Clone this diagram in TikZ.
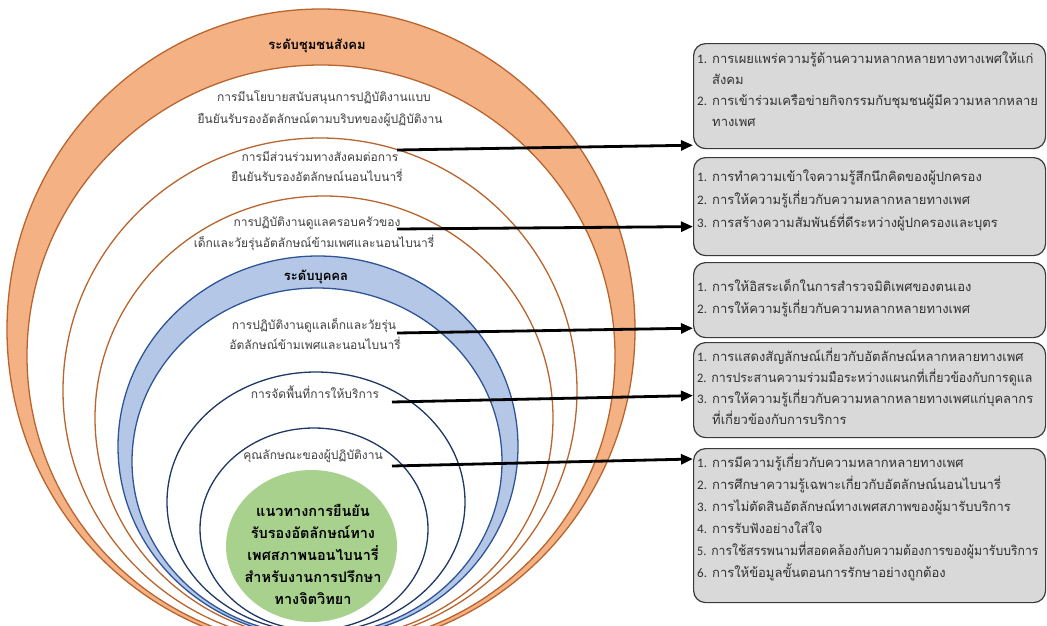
\documentclass[tikz,border=0pt]{standalone}
\usepackage{fontspec}
\newfontfamily\thai[Script=Thai]{Loma}
\newfontfamily\numf{Carlito}
\usetikzlibrary{arrows.meta,calc}
\definecolor{orfill}{HTML}{F4B183}
\definecolor{orline}{HTML}{B9652F}
\definecolor{bluefill}{HTML}{B4C7E7}
\definecolor{blueline}{HTML}{2F5597}
\definecolor{navyline}{HTML}{203864}
\definecolor{greenfill}{HTML}{A9D18E}
\definecolor{boxfill}{HTML}{D9D9D9}
\definecolor{boxline}{HTML}{3A3A3A}
\definecolor{ctextc}{HTML}{404040}
\definecolor{btextc}{HTML}{303030}
\begin{document}
\begin{tikzpicture}[x=1pt,y=-1pt,
  ring/.style={line width=1.3pt},
  bandtitle/.style={font=\thai\bfseries\fontsize{13}{15}\selectfont,text=black,inner sep=0pt,anchor=base},
  ctext/.style={font=\thai\fontsize{12}{14}\selectfont,text=ctextc,inner sep=0pt,anchor=base},
  gtext/.style={font=\thai\bfseries\fontsize{14.5}{16}\selectfont,text=black,inner sep=0pt,anchor=base},
  btext/.style={font=\thai\fontsize{13}{15}\selectfont,text=btextc,inner sep=0pt,anchor=base west},
  boxst/.style={draw=boxline,fill=boxfill,rounded corners=12pt,line width=1.2pt,inner sep=0pt,anchor=north west,minimum width=352pt},
  arr/.style={line width=2.8pt,-{Triangle[length=12pt,width=10pt]}}]
\newcommand{\nm}[1]{\makebox[15pt][l]{\numf #1}}
\useasboundingbox (0,0) rectangle (1047,625);
\fill[white] (0,0) rectangle (1047,625);
\begin{scope}
\clip (0,0) rectangle (1047,625);
% rings
\draw[ring,draw=orline,fill=orfill] (321,329.5) ellipse [x radius=314pt,y radius=320.5pt];
\draw[ring,draw=orline,fill=white] (321,356) ellipse [x radius=294pt,y radius=291pt];
\draw[ring,draw=orline,fill=white] (320,390.5) ellipse [x radius=257pt,y radius=252.5pt];
\draw[ring,draw=orline,fill=white] (324,418) ellipse [x radius=229pt,y radius=222pt];
\draw[ring,draw=blueline,fill=bluefill] (318,446.5) ellipse [x radius=200pt,y radius=190.5pt];
\draw[ring,draw=blueline,fill=white] (317,461.5) ellipse [x radius=185pt,y radius=173.5pt];
\draw[ring,draw=navyline,fill=white] (316,502) ellipse [x radius=149pt,y radius=130pt];
\draw[ring,draw=navyline,fill=white] (314,529) ellipse [x radius=114pt,y radius=101pt];
\fill[greenfill] (311.5,546) ellipse [x radius=85.5pt,y radius=76pt];
\end{scope}
% ring texts
\node[bandtitle] (t0) at (317,49) {ระดับชุมชนสังคม};
\node[ctext] (c1a) at (324,101) {การมีนโยบายสนับสนุนการปฏิบัติงานแบบ};
\node[ctext] (c1b) at (320,123) {ยืนยันรับรองอัตลักษณ์ตามบริบทของผู้ปฏิบัติงาน};
\node[ctext] (c2a) at (320,161) {การมีส่วนร่วมทางสังคมต่อการ};
\node[ctext] (c2b) at (317,181) {ยืนยันรับรองอัตลักษณ์นอนไบนารี่};
\node[ctext] (c3a) at (317,226) {การปฏิบัติงานดูแลครอบครัวของ};
\node[ctext] (c3b) at (314,247) {เด็กและวัยรุ่นอัตลักษณ์ข้ามเพศและนอนไบนารี่};
\node[bandtitle] (t1) at (316,280) {ระดับบุคคล};
\node[ctext] (c4a) at (314,329) {การปฏิบัติงานดูแลเด็กและวัยรุ่น};
\node[ctext] (c4b) at (315,349) {อัตลักษณ์ข้ามเพศและนอนไบนารี่};
\node[ctext] (c5) at (315,398) {การจัดพื้นที่การให้บริการ};
\node[ctext] (c6) at (313,459) {คุณลักษณะของผู้ปฏิบัติงาน};
\node[gtext] (g1) at (313,516) {แนวทางการยืนยัน};
\node[gtext] (g2) at (313,538) {รับรองอัตลักษณ์ทาง};
\node[gtext] (g3) at (313,560) {เพศสภาพนอนไบนารี่};
\node[gtext] (g4) at (313,582) {สำหรับงานการปรึกษา};
\node[gtext] (g5) at (313,604) {ทางจิตวิทยา};
% boxes
\node[boxst,minimum height=105pt] (b1) at (693,43) {};
\node[boxst,minimum height=98pt] (b2) at (693,157) {};
\node[boxst,minimum height=75pt] (b3) at (693,262) {};
\node[boxst,minimum height=95pt] (b4) at (693,342) {};
\node[boxst,minimum height=154pt] (b5) at (693,448) {};
% box texts
\node[btext] (b1l1) at (697,63) {\nm{1.}การเผยแพร่ความรู้ด้านความหลากหลายทางทางเพศให้แก่};
\node[btext] (b1l2) at (712,84) {สังคม};
\node[btext] (b1l3) at (697,105) {\nm{2.}การเข้าร่วมเครือข่ายกิจกรรมกับชุมชนผู้มีความหลากหลาย};
\node[btext] (b1l4) at (712,126) {ทางเพศ};
\node[btext] (b2l1) at (697,181) {\nm{1.}การทำความเข้าใจความรู้สึกนึกคิดของผู้ปกครอง};
\node[btext] (b2l2) at (697,204) {\nm{2.}การให้ความรู้เกี่ยวกับความหลากหลายทางเพศ};
\node[btext] (b2l3) at (697,227) {\nm{3.}การสร้างความสัมพันธ์ที่ดีระหว่างผู้ปกครองและบุตร};
\node[btext] (b3l1) at (697,291) {\nm{1.}การให้อิสระเด็กในการสำรวจมิติเพศของตนเอง};
\node[btext] (b3l2) at (697,313) {\nm{2.}การให้ความรู้เกี่ยวกับความหลากหลายทางเพศ};
\node[btext] (b4l1) at (697,361) {\nm{1.}การแสดงสัญลักษณ์เกี่ยวกับอัตลักษณ์หลากหลายทางเพศ};
\node[btext] (b4l2) at (697,382) {\scalebox{0.95}[1]{\nm{2.}การประสานความร่วมมือระหว่างแผนกที่เกี่ยวข้องกับการดูแล}};
\node[btext] (b4l3) at (697,403) {\nm{3.}การให้ความรู้เกี่ยวกับความหลากหลายทางเพศแก่บุคลากร};
\node[btext] (b4l4) at (712,424) {ที่เกี่ยวข้องกับการบริการ};
\node[btext] (b5l1) at (697,467) {\nm{1.}การมีความรู้เกี่ยวกับความหลากหลายทางเพศ};
\node[btext] (b5l2) at (697,489) {\nm{2.}การศึกษาความรู้เฉพาะเกี่ยวกับอัตลักษณ์นอนไบนารี่};
\node[btext] (b5l3) at (697,511) {\nm{3.}การไม่ตัดสินอัตลักษณ์ทางเพศสภาพของผู้มารับบริการ};
\node[btext] (b5l4) at (697,533) {\nm{4.}การรับฟังอย่างใส่ใจ};
\node[btext] (b5l5) at (697,555) {\scalebox{0.94}[1]{\nm{5.}การใช้สรรพนามที่สอดคล้องกับความต้องการของผู้มารับบริการ}};
\node[btext] (b5l6) at (697,577) {\nm{6.}การให้ข้อมูลขั้นตอนการรักษาอย่างถูกต้อง};
% arrows
\coordinate (s1) at (397,150);
\coordinate (s2) at (397,229);
\coordinate (s3) at (397,333);
\coordinate (s4) at (392,402);
\coordinate (s5) at (392,466);
\draw[arr] (s1) -- ([yshift=4pt]b1.south west);
\draw[arr] (s2) -- ([yshift=-20pt]b2.west);
\draw[arr] (s3) -- ([yshift=10pt]b3.south west);
\draw[arr] (s4) -- ([yshift=-5.5pt]b4.west);
\draw[arr] (s5) -- ([yshift=-11pt]b5.north west);
\end{tikzpicture}
\end{document}
